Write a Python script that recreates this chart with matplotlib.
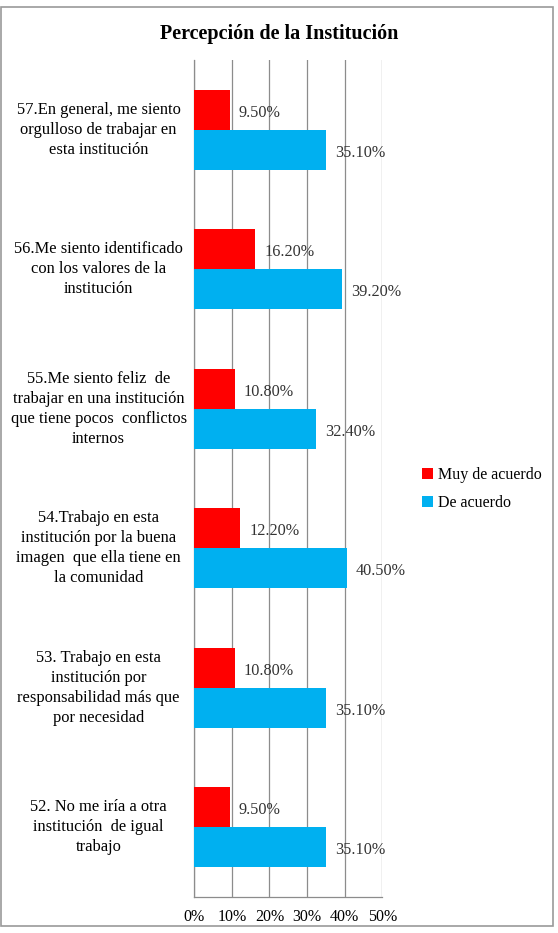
import matplotlib.pyplot as plt
import numpy as np
from matplotlib.patches import Rectangle
from matplotlib.ticker import FuncFormatter

plt.rcParams["font.family"] = ["Liberation Serif", "DejaVu Serif"]

# bottom to top
categories = [
    "52. No me iría a otra\ninstitución  de igual\ntrabajo",
    "53. Trabajo en esta\ninstitución por\nresponsabilidad más que\npor necesidad",
    "54.Trabajo en esta\ninstitución por la buena\nimagen  que ella tiene en\nla comunidad",
    "55.Me siento feliz  de\ntrabajar en una institución\nque tiene pocos  conflictos\ninternos",
    "56.Me siento identificado\ncon los valores de la\ninstitución",
    "57.En general, me siento\norgulloso de trabajar en\nesta institución",
]
muy_de_acuerdo = [9.5, 10.8, 12.2, 10.8, 16.2, 9.5]
de_acuerdo = [35.1, 35.1, 40.5, 32.4, 39.2, 35.1]
ticks = [0, 10, 20, 30, 40, 50]

RED = "#FF0000"
BLUE = "#00B0F0"

fig = plt.figure(figsize=(5.58, 9.33), dpi=100)
ax = fig.add_axes([0.348, 0.0386, 0.337, 0.897])

y = np.arange(len(categories))
h = 0.287
ax.barh(y + h / 2, muy_de_acuerdo, height=h, color=RED, label="Muy de acuerdo", zorder=3)
ax.barh(y - h / 2, de_acuerdo, height=h, color=BLUE, label="De acuerdo", zorder=3)

# value labels, a little right of each bar end
for yi, v in zip(y, muy_de_acuerdo):
    ax.text(v + 2.4, yi + h / 2 - 0.02, f"{v:.2f}%", va="center", ha="left",
            fontsize=11.7, color="#333333", zorder=4)
for yi, v in zip(y, de_acuerdo):
    ax.text(v + 2.4, yi - h / 2 - 0.02, f"{v:.2f}%", va="center", ha="left",
            fontsize=11.7, color="#333333", zorder=4)

ax.set_xlim(0, 50)
ax.set_ylim(-0.5, len(categories) - 0.5)
ax.set_xticks(ticks)
ax.xaxis.set_major_formatter(FuncFormatter(lambda v, p: f"{v:.0f}%"))
ax.tick_params(axis="x", length=0, labelsize=11.5, pad=9)
ax.set_yticks([])
ax.grid(axis="x", color="#8c8c8c", lw=0.9, zorder=0)
for s in ["top", "right"]:
    ax.spines[s].set_visible(False)
for s in ["left", "bottom"]:
    ax.spines[s].set_color("#8c8c8c")
    ax.spines[s].set_linewidth(0.9)

trans = ax.get_yaxis_transform()
for yi, lab in zip(y, categories):
    ax.text(-0.508, yi, lab, transform=trans, ha="center", va="center",
            fontsize=11.9, linespacing=1.33, multialignment="center")

fig.text(0.5, 0.964, "Percepción de la Institución", ha="center", va="center",
         fontsize=14.5, fontweight="bold")

fig.legend(loc="center left", bbox_to_anchor=(0.730, 0.476), frameon=False,
           fontsize=11.5, handlelength=0.7, handleheight=0.7, handletextpad=0.35,
           labelspacing=0.75)

fig.patches.append(Rectangle((0.002, 0.007), 0.989, 0.985, transform=fig.transFigure,
                             fill=False, edgecolor="#9a9a9a", lw=1.2))

fig.savefig("out.png", dpi=100)
